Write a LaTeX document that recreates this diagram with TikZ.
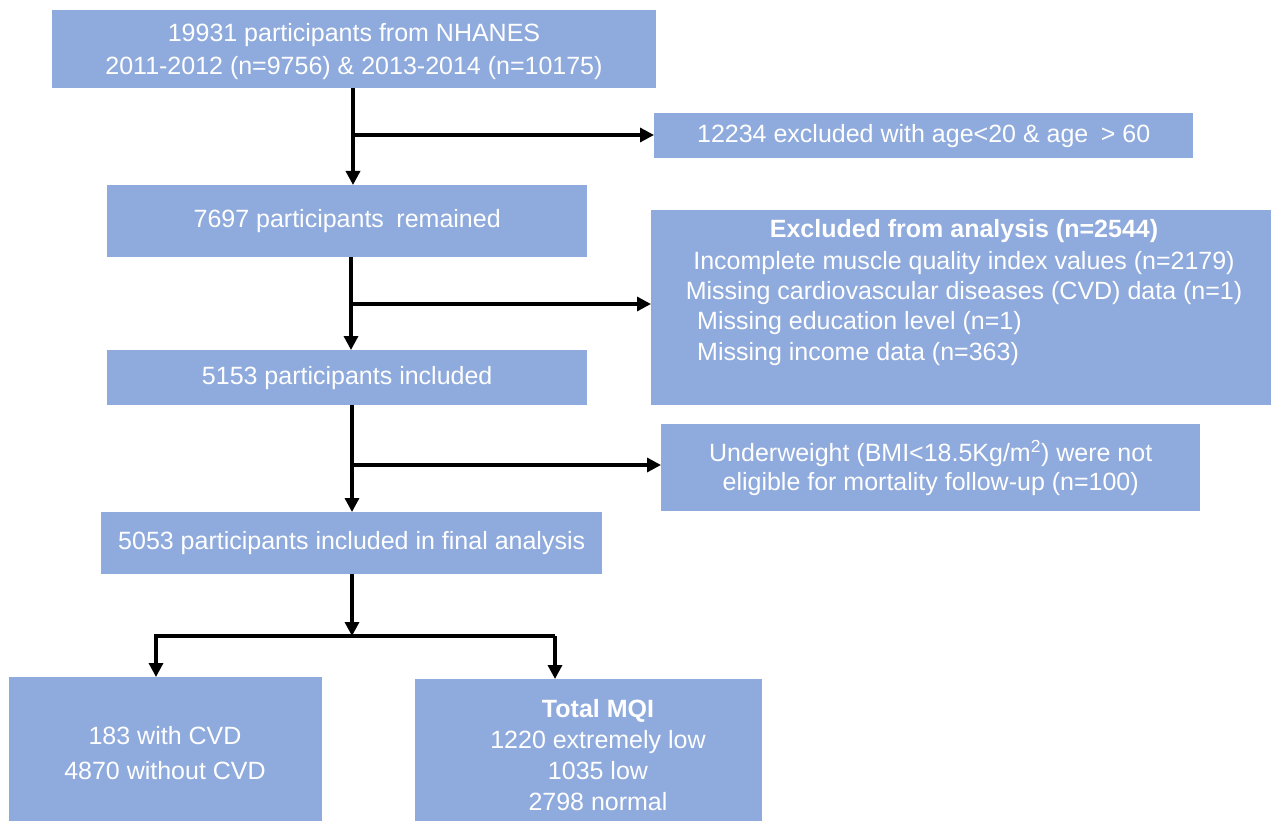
\documentclass[tikz,border=0pt]{standalone}
\usepackage{fontspec}
\setmainfont{Liberation Sans}
\usetikzlibrary{arrows.meta}
\definecolor{boxblue}{HTML}{8FAADC}
\tikzset{
  box/.style={fill=boxblue, draw=none, inner sep=0pt, anchor=north west, text=white, align=center,
    font=\fontsize{25}{31}\selectfont},
  txt/.style={text=white, inner sep=0pt, font=\fontsize{25}{31}\selectfont},
  arr/.style={line width=3.3pt, -{Triangle[length=14pt,width=14pt]}},
}
\begin{document}
\begin{tikzpicture}[x=1pt,y=-1pt]
\useasboundingbox (0,0) rectangle (1271,821);
\node[box, minimum width=604pt, minimum height=78pt, font=\fontsize{25}{33}\selectfont] (b1) at (52,10) {};
\node[txt, align=center, font=\fontsize{25}{33}\selectfont] (b1t) at (354,52)
  {19931 participants from NHANES\\2011-2012 (n=9756) \& 2013-2014 (n=10175)};
\node[box, minimum width=539pt, minimum height=45pt] (e1) at (654,113)
  {12234 excluded with age<20 \& age\enspace> 60};
\node[box, minimum width=480pt, minimum height=72pt] (b2) at (107,185)
  {7697 participants\enspace remained};
\node[box, minimum width=620pt, minimum height=195pt] (e2) at (651,210) {};
\node[txt, font=\fontsize{25}{31}\selectfont\bfseries] (e2t) at (964,231) {Excluded from analysis (n=2544)};
\node[txt] (e2a) at (964,263) {Incomplete muscle quality index values (n=2179)};
\node[txt] (e2b) at (964,293) {Missing cardiovascular diseases (CVD) data (n=1)};
\node[txt, anchor=west] (e2c) at (697,323) {Missing education level (n=1)};
\node[txt, anchor=west] (e2d) at (697,354) {Missing income data (n=363)};
\node[box, minimum width=480pt, minimum height=55pt] (b3) at (107,350)
  {5153 participants included};
\node[box, minimum width=539pt, minimum height=87pt, font=\fontsize{25}{29}\selectfont] (e3) at (661,424)
  {Underweight (BMI<18.5Kg/m\textsuperscript{2}) were not\\eligible for mortality follow-up (n=100)};
\node[box, minimum width=501pt, minimum height=62pt] (b4) at (101,512)
  {5053 participants included in final analysis};
\node[box, minimum width=313pt, minimum height=144pt] (c1) at (9,677) {};
\node[txt, align=center, font=\fontsize{25}{35}\selectfont] (c1t) at (165,753)
  {183 with CVD\\4870 without CVD};
\node[box, minimum width=347pt, minimum height=142pt] (c2) at (415,679) {};
\node[txt, align=center] (c2t) at (598,755)
  {\textbf{Total MQI}\\1220 extremely low\\1035 low\\2798 normal};
\coordinate (j1) at (353,135);
\coordinate (j2) at (351,304);
\coordinate (j3) at (352,465);
\coordinate (j4) at (352,636);
\coordinate (l4) at (156,636);
\coordinate (r4) at (555,636);
\draw[arr] (b1.south -| j1) -- (b2.north -| j1);
\draw[arr] (j1) -- (e1.west |- j1);
\draw[arr] (b2.south -| j2) -- (b3.north -| j2);
\draw[arr] (j2) -- (e2.west |- j2);
\draw[arr] (b3.south -| j3) -- (b4.north -| j3);
\draw[arr] (j3) -- (e3.west |- j3);
\draw[arr] (b4.south -| j4) -- (j4);
\draw[arr] (r4) -- (l4) -- (c1.north -| l4);
\draw[arr] (r4) -- (c2.north -| r4);
\end{tikzpicture}
\end{document}
